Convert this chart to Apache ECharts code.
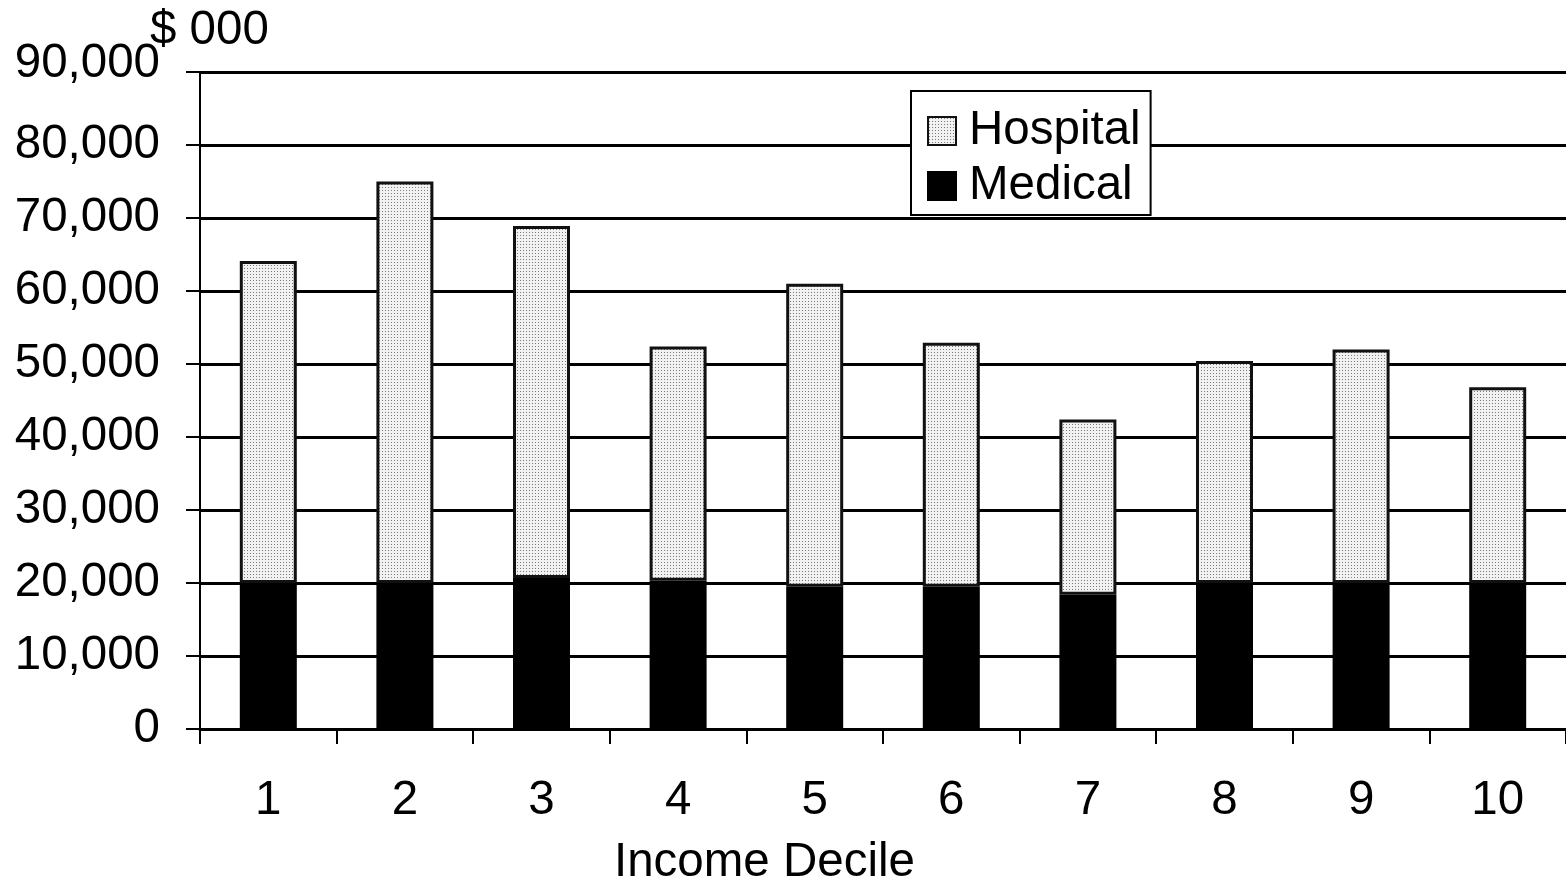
<!DOCTYPE html>
<html>
<head>
<meta charset="utf-8">
<script src="https://cdn.jsdelivr.net/npm/echarts@6/dist/echarts.min.js"></script>
<style>
  html, body { margin: 0; padding: 0; background: #fff; }
  #chart { width: 1566px; height: 885px; }
</style>
</head>
<body>
<div id="chart"></div>
<script>
// Income deciles on the category axis
const categories = ['1', '2', '3', '4', '5', '6', '7', '8', '9', '10'];
// Medical spending ($ 000), bottom segment of each stack
const medical = [20000, 20000, 20700, 20300, 19500, 19500, 18400, 20000, 20000, 20000];
// Hospital spending ($ 000), stacked on top of medical
const hospital = [44100, 55000, 48200, 32100, 41500, 33400, 24000, 30400, 32000, 26800];
// Value axis range and step
const yMin = 0;
const yMax = 90000;
const yStep = 10000;

const FONT = "'Liberation Sans', Arial, Helvetica, sans-serif";
const FS = 47.5;

// Fine stipple fill for the hospital segments
function stipple() {
  const c = document.createElement('canvas');
  c.width = 3; c.height = 3;
  const g = c.getContext('2d');
  g.fillStyle = '#f2f2f2';
  g.fillRect(0, 0, 3, 3);
  g.fillStyle = '#7a7a7a';
  g.fillRect(1, 1, 1, 1);
  return c;
}
const dotFill = { image: stipple(), repeat: 'repeat' };

const chart = echarts.init(document.getElementById('chart'), null, { renderer: 'canvas' });

chart.setOption({
  animation: false,
  backgroundColor: '#ffffff',
  textStyle: { fontFamily: FONT },
  grid: { left: 200, right: 0, top: 72, bottom: 156, containLabel: false },
  legend: {
    orient: 'vertical',
    left: 911,
    top: 91,
    padding: [16, 10, 5, 16],
    itemGap: 7,
    itemWidth: 28,
    itemHeight: 28,
    icon: 'rect',
    borderColor: '#000',
    borderWidth: 2,
    backgroundColor: '#fff',
    data: ['Hospital', 'Medical'],
    textStyle: {
      fontFamily: FONT,
      fontSize: FS,
      color: '#000',
      lineHeight: 46,
      padding: [0, 0, 0, 8]
    }
  },
  xAxis: {
    type: 'category',
    data: categories,
    boundaryGap: true,
    axisLine: { show: true, lineStyle: { color: '#000', width: 3 } },
    axisTick: { show: true, alignWithLabel: false, length: 15, lineStyle: { color: '#000', width: 2 } },
    axisLabel: { margin: 48, color: '#000', fontSize: FS, fontFamily: FONT },
    splitLine: { show: false }
  },
  yAxis: {
    type: 'value',
    min: yMin,
    max: yMax,
    interval: yStep,
    axisLine: { show: true, lineStyle: { color: '#000', width: 2 } },
    axisTick: { show: true, length: 14, lineStyle: { color: '#000', width: 2 } },
    axisLabel: {
      margin: 40,
      color: '#000',
      fontSize: FS,
      fontFamily: FONT,
      formatter: v => v === yMax ? '{top|' + v.toLocaleString('en-US') + '}' : v.toLocaleString('en-US'),
      rich: {
        top: { fontSize: FS, fontFamily: FONT, color: '#000', padding: [0, 0, 16, 0] }
      }
    },
    splitLine: { show: true, lineStyle: { color: '#000', width: 3 } }
  },
  graphic: [
    {
      type: 'text',
      x: 150, y: 31,
      style: { text: '$ 000', font: FS + 'px ' + FONT, fill: '#000', textAlign: 'left', textVerticalAlign: 'middle' }
    },
    {
      type: 'text',
      x: 614, y: 863,
      style: { text: 'Income Decile', font: FS + 'px ' + FONT, fill: '#000', textAlign: 'left', textVerticalAlign: 'middle' }
    }
  ],
  series: [
    {
      name: 'Medical',
      type: 'bar',
      stack: 'total',
      barWidth: 57,
      data: medical,
      itemStyle: { color: '#000', borderColor: '#000', borderWidth: 2 }
    },
    {
      name: 'Hospital',
      type: 'bar',
      stack: 'total',
      barWidth: 57,
      data: hospital,
      itemStyle: { color: dotFill, borderColor: '#111', borderWidth: 3 }
    }
  ]
});
</script>
</body>
</html>
